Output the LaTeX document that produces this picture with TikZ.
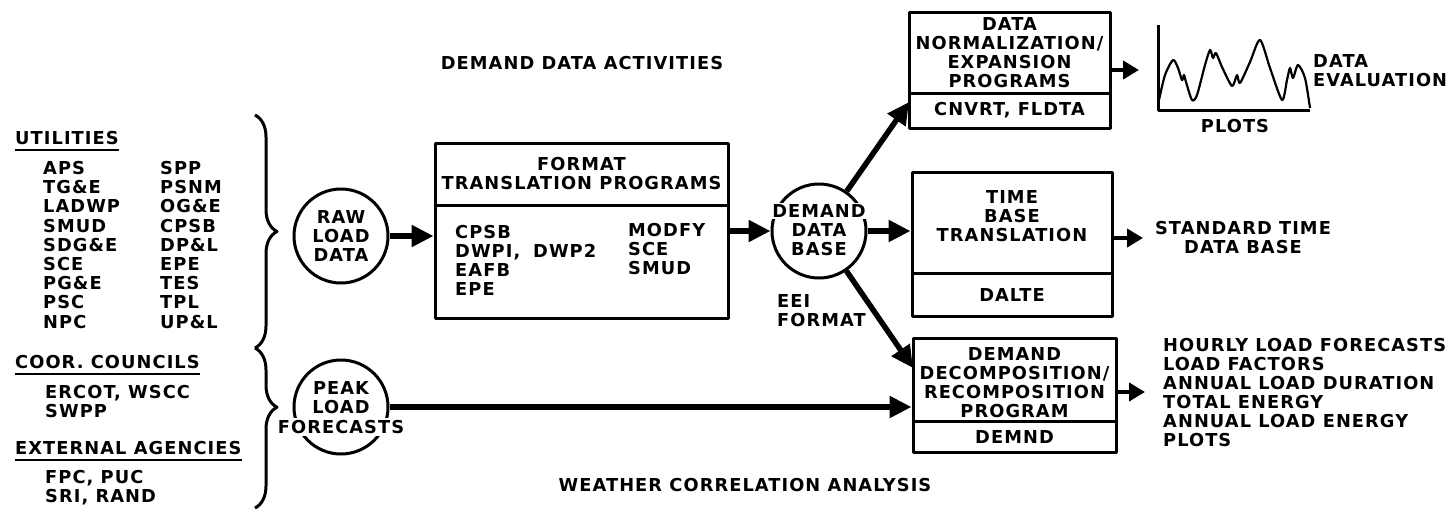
\documentclass[tikz,border=0pt]{standalone}
\usepackage{fontspec}
\setmainfont{DejaVu Sans}[LetterSpace=6]
\usetikzlibrary{arrows.meta,decorations.pathreplacing}
\newcommand\lettering{\fontsize{17.8}{19}\selectfont\bfseries}
\tikzset{
  box/.style={draw, line width=3pt, inner sep=0pt},
  disc/.style={draw, circle, line width=3pt, minimum size=94pt, inner sep=0pt, align=center},
  txt/.style={inner sep=0pt, align=center},
  item/.style={inner sep=0pt, anchor=west, align=left},
  mask/.style={fill=white, inner sep=2pt},
  flow/.style={line width=5.5pt, -{Triangle[length=22pt,width=21pt]}},
  tip/.style={line width=4pt, -{Triangle[length=16pt,width=18pt]}},
  brc/.style={decorate, decoration={brace, amplitude=22pt, #1}, line width=3pt},
  rule/.style={line width=2.2pt},
}
\begin{document}
\begin{tikzpicture}[x=1pt, y=-1pt, font=\lettering, line join=round]
\useasboundingbox (0,0) rectangle (1454,515);

% headings
\node[txt] (title) at (582,63) {DEMAND DATA ACTIVITIES};
\node[txt] (weather) at (745,485) {WEATHER CORRELATION ANALYSIS};

% data sources
\node[item] (util) at (15,138) {UTILITIES};
\foreach \u [count=\i] in {APS,TG\&E,LADWP,SMUD,SDG\&E,SCE,PG\&E,PSC,NPC}
  \node[item] (ua\i) at (43,{148.8+19.2*\i}) {\u};
\foreach \u [count=\i] in {SPP,PSNM,OG\&E,CPSB,DP\&L,EPE,TES,TPL,UP\&L}
  \node[item] (ub\i) at (160,{148.8+19.2*\i}) {\u};
\node[item] (coor) at (15,362) {COOR. COUNCILS};
\node[item] (coorl) at (45,401.5) {ERCOT, WSCC\\SWPP};
\node[item] (ext) at (15,448) {EXTERNAL AGENCIES};
\node[item] (extl) at (45,487.5) {FPC, PUC\\SRI, RAND};
\foreach \h in {util,coor,ext}
  \draw[rule] ([yshift=-5pt]\h.south west) -- ([yshift=-5pt]\h.south east);
\draw[brc={aspect=0.5}] (255,115) -- (255,348);
\draw[brc={aspect=0.37}] (255,348) -- (255,508);

% circles
\node[disc] (raw) at (341,236) {RAW\\LOAD\\DATA};
\node[disc] (peak) at (341,407) {};
\node[txt] (peakt) at (341,397.5) {PEAK\\LOAD};
\node[txt, mask] (peakf) at (341,427) {FORECASTS};
\node[disc] (dem) at (819,231) {};
\node[txt, mask] (demt) at (819,211) {DEMAND};
\node[txt] (demb) at (819,239.5) {DATA\\BASE};
\node[item] (eei) at (777,310.5) {EEI\\FORMAT};

% program boxes
\node[box, minimum width=293pt, minimum height=175pt] (fmt) at (581.5,230.5) {};
\draw[box] (fmt.west |- 0,205) -- (fmt.east |- 0,205);
\node[txt] (fmth) at (581.5,174) {FORMAT\\TRANSLATION PROGRAMS};
\node[item] (fmta) at (455,260.5) {CPSB\\DWPI,\\EAFB\\EPE};
\node[item] (fmtb) at (533,251) {DWP2};
\node[item] (fmtc) at (628,249) {MODFY\\SCE\\SMUD};

\node[box, minimum width=201pt, minimum height=116pt] (norm) at (1009.5,70) {};
\draw[box] (norm.west |- 0,93) -- (norm.east |- 0,93);
\node[txt] (normh) at (1009.5,52.5) {DATA\\NORMALIZATION/\\EXPANSION\\PROGRAMS};
\node[txt] (normp) at (1009.5,110.5) {CNVRT, FLDTA};

\node[box, minimum width=200pt, minimum height=144pt] (time) at (1012,244) {};
\draw[box] (time.west |- 0,273) -- (time.east |- 0,273);
\node[txt] (timeh) at (1012,216) {TIME\\BASE\\TRANSLATION};
\node[txt] (timep) at (1012,295) {DALTE};

\node[box, minimum width=203pt, minimum height=114pt] (dcmp) at (1014.5,395) {};
\draw[box] (dcmp.west |- 0,421) -- (dcmp.east |- 0,421);
\node[txt] (dcmph) at (1014.5,382.5) {DEMAND\\DECOMPOSITION/\\RECOMPOSITION\\PROGRAM};
\node[txt] (dcmpp) at (1014.5,437) {DEMND};

% outputs
\node[txt] (std) at (1243,238) {STANDARD TIME\\DATA BASE};
\node[item] (eval) at (1313,71) {DATA\\EVALUATION};
\node[txt] (plots) at (1235,126) {PLOTS};
\node[item] (res) at (1163,392.5) {HOURLY LOAD FORECASTS\\LOAD FACTORS\\ANNUAL LOAD DURATION\\TOTAL ENERGY\\ANNUAL LOAD ENERGY\\PLOTS};

\coordinate (axis) at (1158,110);
\draw[line width=3pt] (1158,25) -- (axis) -- (1310,110);
\draw[line width=2.2pt] plot[smooth, tension=0.45] coordinates {(1159,100) (1165,75) (1173,60)
  (1178,68) (1182,80) (1184,75) (1186,82) (1192,100) (1197,95) (1205,65) (1210,50) (1213,58)
  (1216,53) (1222,67) (1232,86) (1237,75) (1240,83) (1250,62) (1260,40) (1270,68) (1282,100)
  (1287,80) (1290,68) (1293,78) (1298,65) (1305,78) (1310,108)};

% flow
\coordinate (normin) at (909,102);
\coordinate (dcmpin) at (913,368);
\coordinate (plotin) at (1139,70);
\coordinate (stdin) at (1143,238);
\coordinate (resin) at (1145,392);
\draw[flow] (raw) -- (raw -| fmt.west);
\draw[flow] (fmt.east |- dem) -- (dem);
\draw[flow] (dem) -- (normin);
\draw[flow] (dem) -- (dem -| time.west);
\draw[flow] (dem) -- (dcmpin);
\draw[flow] (peak) -- (peak -| dcmp.west);
\draw[tip] (norm.east) -- (plotin);
\draw[tip] (time.east |- stdin) -- (stdin);
\draw[tip] (dcmp.east |- resin) -- (resin);
\end{tikzpicture}
\end{document}
